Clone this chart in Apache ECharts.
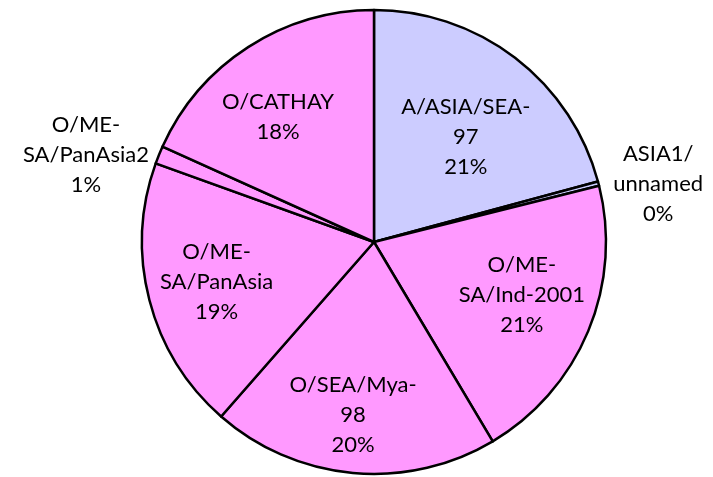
<!DOCTYPE html>
<html><head><meta charset="utf-8">
<script src="https://cdn.jsdelivr.net/npm/echarts@6/dist/echarts.min.js"></script>
<style>html,body{margin:0;padding:0;background:#fff}#c{width:713px;height:477px}</style>
</head><body><div id="c"></div>
<script>
// Data (shares in percent of total)
var categories = ['A/ASIA/SEA-\n97', 'ASIA1/\nunnamed', 'O/ME-\nSA/Ind-2001', 'O/SEA/Mya-\n98', 'O/ME-\nSA/PanAsia', 'O/ME-\nSA/PanAsia2', 'O/CATHAY'];
var shares = [20.8, 0.3, 20.35, 20.0, 19.05, 1.25, 18.25];
var sliceColors = ['#CCCCFF', '#CCCCFF', '#FF99FF', '#FF99FF', '#FF99FF', '#FF99FF', '#FF99FF'];

// Layout (not data)
var CX = 374, CY = 242, R = 232;
var labelDist = [0.60, 1.25, 0.677, 0.751, 0.70, 1.297, 0.68]; // fraction of radius
var labelTurn = [3.8, 3.1, -2.9, 1.7, 0.3, -5.25, -4.65];       // degrees from slice mid-angle

var total = shares.reduce(function (a, b) { return a + b; }, 0);
var midAngles = [];
(function () {
  var cum = 0;
  for (var i = 0; i < shares.length; i++) {
    var a0 = cum / total * 360;
    cum += shares[i];
    var a1 = cum / total * 360;
    midAngles.push((a0 + a1) / 2);
  }
})();

var chart = echarts.init(document.getElementById('c'), null, { renderer: 'canvas' });
chart.setOption({
  animation: false,
  backgroundColor: '#ffffff',
  series: [{
    type: 'pie',
    center: [CX, CY],
    radius: [0, R],
    startAngle: 90,
    clockwise: true,
    percentPrecision: 0,
    avoidLabelOverlap: false,
    minShowLabelAngle: 0,
    itemStyle: { borderColor: '#000', borderWidth: 2.5 },
    emphasis: { disabled: true },
    label: {
      show: true,
      position: 'inside',
      formatter: '{b}\n{d}%',
      color: '#000',
      fontFamily: 'Lato',
      fontSize: 22,
      lineHeight: 30,
      align: 'center'
    },
    labelLine: { show: false },
    labelLayout: function (p) {
      var i = p.dataIndex;
      var ang = (midAngles[i] + labelTurn[i]) * Math.PI / 180;
      var d = labelDist[i] * R;
      return {
        x: CX + d * Math.sin(ang),
        y: CY - d * Math.cos(ang),
        align: 'center',
        verticalAlign: 'middle'
      };
    },
    data: categories.map(function (c, i) {
      return { name: c, value: shares[i], itemStyle: { color: sliceColors[i] } };
    })
  }]
});
</script>
</body></html>
